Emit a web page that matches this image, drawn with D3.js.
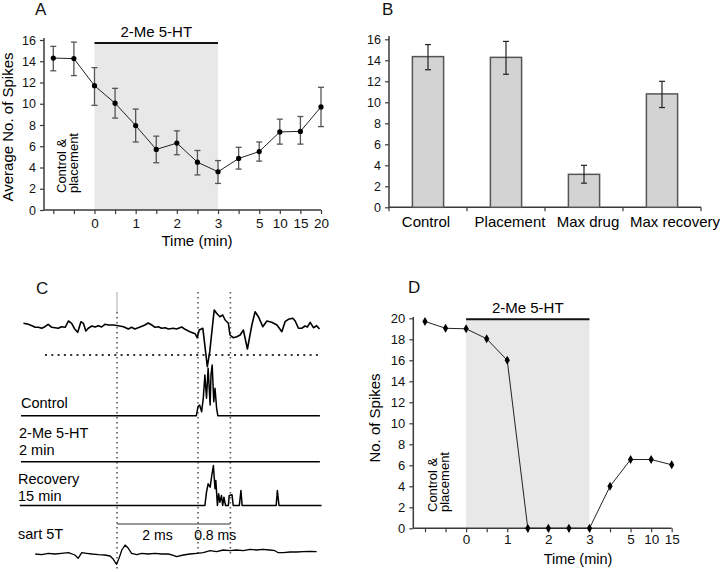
<!DOCTYPE html>
<html><head><meta charset="utf-8">
<script src="https://cdn.jsdelivr.net/npm/d3@7"></script>
<style>
body{margin:0;background:#fff;}
svg{display:block;font-family:"Liberation Sans",Arial,sans-serif;}
</style></head><body>
<svg id="c" width="720" height="572"></svg>
<script>
// ---------- Panel A data ----------
const aTickLabels = ["","","0","","1","","2","","3","","5","10","15","20"];
const aMean = [14.3,14.25,11.7,10.05,7.95,5.7,6.3,4.5,3.6,4.85,5.5,7.35,7.4,9.7];
const aLow  = [13.1,12.65,9.85,8.65,6.4,4.45,5.2,3.3,2.5,3.85,4.6,6.2,6.2,7.85];
const aHigh = [15.4,15.8,13.4,11.45,9.5,6.95,7.45,5.6,4.65,5.9,6.4,8.55,8.8,11.55];
const aYTicks = [0,2,4,6,8,10,12,14,16];

// ---------- Panel B data ----------
const bCats = ["Control","Placement","Max drug","Max recovery"];
const bMean = [14.35,14.28,3.14,10.8];
const bLow  = [13.1,12.67,2.3,9.5];
const bHigh = [15.5,15.8,4.0,12.0];
const bYTicks = [0,2,4,6,8,10,12,14,16];

// ---------- Panel D data ----------
const dTickLabels = ["","","0","","1","","2","","3","","5","10","15"];
const dVals = [19.7,19.05,19,18.05,16,0,0,0,0,4,6.55,6.55,6.05];
const dYTicks = [0,2,4,6,8,10,12,14,16,18,20];

// drug window (index of "0" and "3" min)
const drugStart = 2, drugEnd = 8;

// ---------- Panel C traces (time in ms, amplitude arbitrary units) ----------
const topT = [-2.31,-2.19,-2.10,-2.02,-1.94,-1.86,-1.78,-1.70,-1.61,-1.53,
 -1.45,-1.37,-1.28,-1.20,-1.12,-1.04,-0.97,-0.89,-0.83,-0.77,
 -0.71,-0.62,-0.54,-0.46,-0.38,-0.30,-0.21,-0.09,0.03,0.16,
 0.28,0.36,0.44,0.57,0.69,0.77,0.86,0.94,1.02,1.10,
 1.19,1.27,1.39,1.47,1.60,1.68,1.80,1.93,1.98,2.03,
 2.12,2.23,2.29,2.40,2.46,2.54,2.61,2.67,2.75,2.79,
 2.87,2.96,3.04,3.12,3.22,3.33,3.41,3.49,3.60,3.70,
 3.82,3.95,4.07,4.15,4.23,4.34,4.40,4.48,4.56,4.64,
 4.70,4.77,4.85,4.93,5.00];
const topV = [1.7,0.7,-0.7,-2.3,-2.3,-3.3,-1.7,0.7,-2.3,-2.7,
 -3.3,-1.7,-2.3,4,1.7,-4.3,-7.3,3.3,1.7,-6,
 -3.3,-1,-2,-0.7,-2,0.7,0,0,-0.7,-1.7,
 -4,-2.3,-4,-2,0,2,0,-2.3,-1.7,-3.3,
 -2.7,-4,-3.3,-4,-2,-4.3,-6.7,-8.7,-12.7,-5,
 -3.3,-41.7,-26.7,15,11.7,8.3,10,5,1.7,-10,
 -12.7,-11.7,-10,-5,-24,0,13.3,8.3,-1.7,4,
 2.7,0,-6.7,3.3,5.7,6.7,4,-3.3,-3.3,-1,
 -2,2.7,-2.7,-0.7,-4];
const threshold = -30;
const ctrlT = [-2.37,1.96,2.00,2.04,2.09,2.13,2.17,2.21,2.25,2.30,2.32,2.35,2.39,2.42,2.46,2.49,5.01];
const ctrlV = [0,0,9,10.7,4,17.4,40.7,17.4,47.4,10.7,40.7,50.7,14,27.4,7.4,0,0];
const drugT = [-2.37,5.01];
const drugV = [0,0];
const recT = [-2.40,2.17,2.21,2.25,2.30,2.34,2.38,2.42,2.44,2.48,2.51,2.54,2.58,2.61,2.64,2.68,2.75,2.77,2.84,2.87,3.02,3.06,3.09,3.93,3.96,4.00,5.05];
const recV = [0,0,13.3,21.7,18.3,30,40,16.7,25,0,11.7,3.3,10,0,8.3,0,0,10,10.7,0,0,15,0,0,15,0,0];
const sartT = [-2.02,-1.86,-1.70,-1.53,-1.37,-1.20,-1.04,-0.96,-0.87,-0.75,
 -0.62,-0.46,-0.30,-0.17,-0.09,-0.01,0.05,0.12,0.20,0.28,
 0.36,0.49,0.61,0.77,0.94,1.10,1.27,1.39,1.47,1.64,
 1.80,1.97,2.13,2.30,2.46,2.62,2.79,2.95,3.12,3.28,
 3.44,3.60,3.77,3.90,3.98,4.11,4.27,4.43,4.60,4.77,4.93];
const sartV = [0,-0.7,0.7,0,0.7,1.3,-1,-4.3,1.3,0.7,
 0,-0.7,-1,-2,-5.3,-10.3,-4.3,4,9,5.7,
 0.7,-0.7,0.7,0,0.7,0,0,-1.3,-2.7,-1,
 0,0.7,1.3,3.3,2.3,4,3.3,4,3.3,4.7,
 4,4.7,4,3.3,1.3,1.3,2,2,2.3,2.7,2.3];
const markerTimes = [0,2,2.8];
const scaleBarTimes = [0,2,2.8];

const svg = d3.select("#c");
const AX = "#3a3a3a";

function styleAxis(g, fs){
  g.select(".domain").remove();
  g.selectAll(".tick line").attr("stroke", AX).attr("stroke-width",1.2);
  g.selectAll(".tick text").attr("fill","#111").style("font-size", fs+"px")
   .style("font-family",'"Liberation Sans",Arial,sans-serif');
}
function letter(x,y,t){
  svg.append("text").attr("x",x).attr("y",y).text(t)
    .style("font-size","17px").attr("fill","#111");
}

// ======================= Panel A =======================
{
  const x = d3.scaleLinear().domain([0,13]).range([53.3,321]);
  const y = d3.scaleLinear().domain([0,16]).range([210,40]);
  const g = svg.append("g");
  g.append("rect").attr("x",x(drugStart)).attr("y",43)
    .attr("width",x(drugEnd)-x(drugStart)).attr("height",y(0)-43).attr("fill","#e8e8e8");
  g.append("line").attr("x1",x(drugStart)).attr("x2",x(drugEnd)).attr("y1",43).attr("y2",43)
    .attr("stroke","#111").attr("stroke-width",2);
  g.append("text").attr("x",(x(drugStart)+x(drugEnd))/2).attr("y",37).attr("text-anchor","middle")
    .style("font-size","15px").text("2-Me 5-HT");
  const ya = g.append("g").attr("transform","translate(44,0)")
    .call(d3.axisLeft(y).tickValues(aYTicks).tickSize(4).tickPadding(4));
  styleAxis(ya,12.5);
  const xa = g.append("g").attr("transform",`translate(0,${y(0)})`)
    .call(d3.axisBottom(x).tickValues(d3.range(aMean.length)).tickSize(4).tickPadding(4)
      .tickFormat(i=>aTickLabels[i]));
  styleAxis(xa,13.5);
  g.append("line").attr("x1",44).attr("x2",44).attr("y1",38).attr("y2",y(0)).attr("stroke",AX).attr("stroke-width",1.5);
  g.append("line").attr("x1",44).attr("x2",x(13)).attr("y1",y(0)).attr("y2",y(0)).attr("stroke",AX).attr("stroke-width",1.5);
  aMean.forEach((m,i)=>{
    g.append("line").attr("x1",x(i)).attr("x2",x(i)).attr("y1",y(aLow[i])).attr("y2",y(aHigh[i])).attr("stroke","#555").attr("stroke-width",1.3);
    [aLow[i],aHigh[i]].forEach(v=>g.append("line").attr("x1",x(i)-3).attr("x2",x(i)+3).attr("y1",y(v)).attr("y2",y(v)).attr("stroke","#555").attr("stroke-width",1.3));
  });
  g.append("path").datum(aMean).attr("fill","none").attr("stroke","#222").attr("stroke-width",1)
    .attr("d",d3.line().x((d,i)=>x(i)).y(d=>y(d)));
  g.selectAll("circle.a").data(aMean).join("circle").attr("cx",(d,i)=>x(i)).attr("cy",d=>y(d)).attr("r",2.6).attr("fill","#000");
  g.append("text").attr("transform","translate(13,127) rotate(-90)").attr("text-anchor","middle")
    .style("font-size","15px").text("Average No. of Spikes");
  g.append("text").attr("x",197).attr("y",246).attr("text-anchor","middle").style("font-size","15px").text("Time (min)");
  g.append("text").attr("transform","translate(66,193) rotate(-90)").style("font-size","13px").text("Control &");
  g.append("text").attr("transform","translate(78,193) rotate(-90)").style("font-size","13px").text("placement");
  letter(35,15,"A");
}

// ======================= Panel B =======================
{
  const x = d3.scaleBand().domain(bCats).range([389,701]).paddingInner(0.6).paddingOuter(0.3);
  const y = d3.scaleLinear().domain([0,16]).range([207.3,39.3]);
  const g = svg.append("g");
  const ya = g.append("g").attr("transform","translate(389,0)")
    .call(d3.axisLeft(y).tickValues(bYTicks).tickSize(4).tickPadding(4));
  styleAxis(ya,12.5);
  g.append("line").attr("x1",389).attr("x2",389).attr("y1",36).attr("y2",y(0)).attr("stroke",AX).attr("stroke-width",1.5);
  g.append("line").attr("x1",389).attr("x2",701).attr("y1",y(0)).attr("y2",y(0)).attr("stroke",AX).attr("stroke-width",1.5);
  const bounds = bCats.map(c=>x(c)+x.bandwidth()/2-x.step()/2).concat([x(bCats[3])+x.bandwidth()/2+x.step()/2]);
  bounds.forEach(b=>g.append("line").attr("x1",b).attr("x2",b).attr("y1",y(0)).attr("y2",y(0)+4).attr("stroke",AX).attr("stroke-width",1.2));
  g.selectAll("rect.b").data(bMean).join("rect").attr("x",(d,i)=>x(bCats[i])).attr("y",d=>y(d))
    .attr("width",x.bandwidth()).attr("height",d=>y(0)-y(d)).attr("fill","#d3d3d3").attr("stroke","#555").attr("stroke-width",1.5);
  const labelShift = [-2,4,4,13];
  bMean.forEach((m,i)=>{
    const cx = x(bCats[i])+x.bandwidth()/2;
    g.append("line").attr("x1",cx).attr("x2",cx).attr("y1",y(bLow[i])).attr("y2",y(bHigh[i])).attr("stroke","#222").attr("stroke-width",1.2);
    [bLow[i],bHigh[i]].forEach(v=>g.append("line").attr("x1",cx-3).attr("x2",cx+3).attr("y1",y(v)).attr("y2",y(v)).attr("stroke","#222").attr("stroke-width",1.2));
    g.append("text").attr("x",cx+labelShift[i]).attr("y",227).attr("text-anchor","middle").style("font-size","15px").text(bCats[i]);
  });
  letter(382,15,"B");
}

// ======================= Panel D =======================
{
  const x = d3.scaleLinear().domain([0,12]).range([425,671.7]);
  const y = d3.scaleLinear().domain([0,20]).range([528.3,318.3]);
  const g = svg.append("g");
  g.append("rect").attr("x",x(drugStart)).attr("y",319.3)
    .attr("width",x(drugEnd)-x(drugStart)).attr("height",y(0)-319.3).attr("fill","#e8e8e8");
  g.append("line").attr("x1",x(drugStart)).attr("x2",x(drugEnd)).attr("y1",319.3).attr("y2",319.3)
    .attr("stroke","#111").attr("stroke-width",2);
  g.append("text").attr("x",(x(drugStart)+x(drugEnd))/2).attr("y",313).attr("text-anchor","middle")
    .style("font-size","15px").text("2-Me 5-HT");
  const ya = g.append("g").attr("transform","translate(413.3,0)")
    .call(d3.axisLeft(y).tickValues(dYTicks).tickSize(4).tickPadding(4));
  styleAxis(ya,13);
  const xa = g.append("g").attr("transform",`translate(0,${y(0)})`)
    .call(d3.axisBottom(x).tickValues(d3.range(dVals.length)).tickSize(4).tickPadding(2.5)
      .tickFormat(i=>dTickLabels[i]));
  styleAxis(xa,13.5);
  g.append("line").attr("x1",413.3).attr("x2",413.3).attr("y1",317).attr("y2",y(0)).attr("stroke",AX).attr("stroke-width",1.5);
  g.append("line").attr("x1",413.3).attr("x2",x(12)).attr("y1",y(0)).attr("y2",y(0)).attr("stroke",AX).attr("stroke-width",1.5);
  g.append("path").datum(dVals).attr("fill","none").attr("stroke","#222").attr("stroke-width",1)
    .attr("d",d3.line().x((d,i)=>x(i)).y(d=>y(d)));
  g.selectAll("path.dm").data(dVals).join("path").attr("class","dm")
    .attr("transform",(d,i)=>`translate(${x(i)},${y(d)})`)
    .attr("d",d3.symbol(d3.symbolDiamond,24)).attr("fill","#000");
  g.append("text").attr("transform","translate(380,418) rotate(-90)").attr("text-anchor","middle")
    .style("font-size","15px").text("No. of Spikes");
  g.append("text").attr("x",578).attr("y",564).attr("text-anchor","middle").style("font-size","14.5px").text("Time (min)");
  g.append("text").attr("transform","translate(437,512) rotate(-90)").style("font-size","13px").text("Control &");
  g.append("text").attr("transform","translate(449,512) rotate(-90)").style("font-size","13px").text("placement");
  letter(408,293,"D");
}

// ======================= Panel C =======================
{
  const x = d3.scaleLinear().domain([0,2]).range([117,198]);
  const yFor = base => d3.scaleLinear().domain([0,10]).range([base, base-10]);
  const g = svg.append("g");
  const yTop = yFor(325), yCtrl = yFor(415.7), yDrug = yFor(461.7), yRec = yFor(505.5), ySart = yFor(554);
  g.append("line").attr("x1",x(markerTimes[0])).attr("x2",x(markerTimes[0])).attr("y1",292).attr("y2",312)
    .attr("stroke","#aaa").attr("stroke-width",1);
  markerTimes.forEach((t,i)=>{
    g.append("line").attr("x1",x(t)).attr("x2",x(t)).attr("y1",i===0?312:292).attr("y2",i===0?572:556)
      .attr("stroke","#555").attr("stroke-width",1.6).attr("stroke-dasharray","1.6,3.4");
  });
  g.append("line").attr("x1",45).attr("x2",318).attr("y1",yTop(threshold)).attr("y2",yTop(threshold))
    .attr("stroke","#333").attr("stroke-width",2).attr("stroke-dasharray","2,4.3");
  const tr = (T,V,ys,w)=>g.append("path").attr("fill","none").attr("stroke","#000").attr("stroke-width",w)
    .attr("stroke-linejoin","round")
    .attr("d",d3.line().x((d,i)=>x(T[i])).y(d=>ys(d))(V));
  tr(topT,topV,yTop,1.6);
  tr(ctrlT,ctrlV,yCtrl,1.5);
  tr(drugT,drugV,yDrug,1.5);
  tr(recT,recV,yRec,1.5);
  tr(sartT,sartV,ySart,1.3);
  g.append("line").attr("x1",x(scaleBarTimes[0])).attr("x2",x(scaleBarTimes[2])).attr("y1",524).attr("y2",524)
    .attr("stroke","#333").attr("stroke-width",1);
  g.append("text").attr("x",(x(scaleBarTimes[0])+x(scaleBarTimes[1]))/2).attr("y",540).attr("text-anchor","middle")
    .style("font-size","14px").text("2 ms");
  g.append("text").attr("x",(x(scaleBarTimes[1])+x(scaleBarTimes[2]))/2+1).attr("y",540).attr("text-anchor","middle")
    .style("font-size","14px").text("0.8 ms");
  const lab = (xx,yy,t)=>g.append("text").attr("x",xx).attr("y",yy).style("font-size","14.5px").text(t);
  lab(21,408,"Control");
  lab(19,438,"2-Me 5-HT");
  lab(19,455,"2 min");
  lab(18,484,"Recovery");
  lab(18,501,"15 min");
  lab(18,539,"sart 5T");
  letter(36,294,"C");
}
</script>
</body></html>
